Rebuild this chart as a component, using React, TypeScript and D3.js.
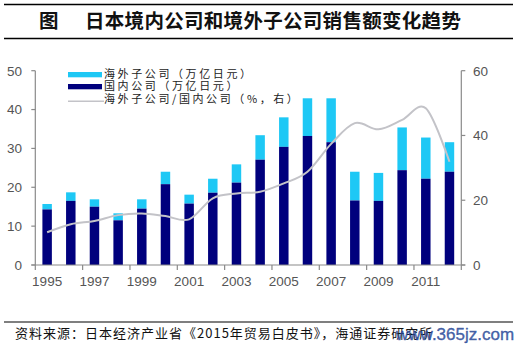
import React from "react";
import * as d3 from "d3";

const years = ["1995","1996","1997","1998","1999","2000","2001","2002","2003","2004","2005","2006","2007","2008","2009","2010","2011","2012"];
const totalSales = [15.7,18.7,16.9,13.3,16.9,24.0,18.1,22.2,25.9,33.4,38.0,42.9,42.9,24.0,23.7,35.4,32.8,31.6];
const domestic = [14.3,16.5,15.0,11.5,14.5,20.8,15.8,18.6,21.2,27.1,30.4,33.2,31.6,16.6,16.5,24.4,22.2,24.0];
const ratio = [10.1,12.6,13.6,15.4,15.9,15.1,14.1,20.6,22.1,22.6,25.2,28.8,37.4,43.8,41.9,44.8,48.4,31.9];
const leftTicks = [0,10,20,30,40,50];
const rightTicks = [0,20,40,60];
const xLabelYears = ["1995","1997","1999","2001","2003","2005","2007","2009","2011"];

const title = "日本境内公司和境外子公司销售额变化趋势";
const legendLabels = ["海外子公司（万亿日元）", "国内公司（万亿日元）", "海外子公司/国内公司（%，右）"];
const source = "资料来源：日本经济产业省《2015年贸易白皮书》，海通证券研究所";

const LIGHT = "#1ec8f5";
const DARK = "#00007d";
const LINE = "#c3c3c8";
const AXIS = "#8a8a8a";
const TXT = "#555";

export default function App() {
  const W = 519, H = 349;
  const x0 = 35.3, x1 = 461.3, yBase = 265, yTop = 70.7;
  const x = d3.scaleBand().domain(years).range([x0, x1]).paddingInner(0.6).paddingOuter(0.3);
  const yL = d3.scaleLinear().domain([0, 50]).range([yBase, yTop]);
  const yR = d3.scaleLinear().domain([0, 60]).range([yBase, yTop]);
  const step = x.step();
  const bw = x.bandwidth();
  const cx = (y: string) => (x(y) as number) + bw / 2;

  const line = d3.line<number>()
    .x((_, i) => cx(years[i]))
    .y((d) => yR(d))
    .curve(d3.curveCardinal.tension(0));

  const boundaries = d3.range(0, years.length + 1, 2).map((i) => x0 + i * step);
  const font = "'Liberation Sans', Arial, sans-serif";
  const cjk = "'Noto Sans CJK SC', sans-serif";
  const legendY = [74.3, 86.5, 98.8];

  return (
    <svg width={W} height={H} style={{ position: "absolute", left: 0, top: 0, background: "#fff" }}>
      <rect x={0} y={0} width={W} height={H} fill="#fff" />
      {/* title */}
      <line x1={4} x2={513} y1={4.5} y2={4.5} stroke="#000" strokeWidth={1.5} />
      <line x1={4} x2={513} y1={38.5} y2={38.5} stroke="#000" strokeWidth={1.5} />
      <text x={39} y={28} fontFamily={cjk} fontWeight="bold" fontSize={19.5} fill="#111">图</text>
      <text x={85} y={28} fontFamily={cjk} fontWeight="bold" fontSize={19.5} fill="#111" letterSpacing={0.3}>{title}</text>

      {/* bars */}
      {years.map((yr, i) => (
        <g key={yr}>
          <rect x={x(yr)} y={yL(totalSales[i])} width={bw} height={yL(domestic[i]) - yL(totalSales[i])} fill={LIGHT} />
          <rect x={x(yr)} y={yL(domestic[i])} width={bw} height={yBase - yL(domestic[i])} fill={DARK} />
        </g>
      ))}

      {/* ratio line */}
      <path d={line(ratio) || ""} fill="none" stroke={LINE} strokeWidth={2} />

      {/* axes */}
      <line x1={x0} x2={x0} y1={yTop} y2={yBase} stroke={AXIS} strokeWidth={1.2} />
      <line x1={x1} x2={x1} y1={yTop} y2={yBase} stroke={AXIS} strokeWidth={1.2} />
      <line x1={x0 - 4} x2={x1 + 4} y1={yBase} y2={yBase} stroke={AXIS} strokeWidth={1.2} />
      {leftTicks.map((t) => (
        <g key={"l" + t}>
          <line x1={x0 - 4} x2={x0} y1={yL(t)} y2={yL(t)} stroke={AXIS} strokeWidth={1.2} />
          <text x={22} y={yL(t)} dy="0.36em" textAnchor="end" fontFamily={font} fontSize={13.5} fill={TXT}>{t}</text>
        </g>
      ))}
      {rightTicks.map((t) => (
        <g key={"r" + t}>
          <line x1={x1} x2={x1 + 4} y1={yR(t)} y2={yR(t)} stroke={AXIS} strokeWidth={1.2} />
          <text x={473} y={yR(t)} dy="0.36em" textAnchor="start" fontFamily={font} fontSize={13.5} fill={TXT}>{t}</text>
        </g>
      ))}
      {boundaries.map((bx, i) => (
        <line key={"b" + i} x1={bx} x2={bx} y1={yBase} y2={yBase + 5} stroke={AXIS} strokeWidth={1.2} />
      ))}
      {xLabelYears.map((yr) => (
        <text key={"x" + yr} x={cx(yr)} y={281} dy="0.36em" textAnchor="middle" fontFamily={font} fontSize={13.5} fill={TXT}>{yr}</text>
      ))}

      {/* legend */}
      <rect x={68} y={72} width={34} height={5.3} fill={LIGHT} />
      <rect x={68} y={84} width={34} height={5.3} fill={DARK} />
      <line x1={68} x2={104} y1={101.3} y2={101.3} stroke={LINE} strokeWidth={1.5} />
      {legendLabels.map((lab, i) => (
        <text key={lab} x={104} y={legendY[i]} dy="0.36em" fontFamily={cjk} fontSize={11} fill="#222" letterSpacing={2.6}>{lab}</text>
      ))}

      {/* footer */}
      <line x1={4} x2={513} y1={322} y2={322} stroke="#000" strokeWidth={1.2} />
      <text x={15} y={333.5} dy="0.36em" fontFamily={cjk} fontSize={13} fill="#111" letterSpacing={1}>{source}</text>
      <text x={396} y={334} dy="0.36em" fontFamily={font} fontSize={17} fill="#2a4b9a" fillOpacity={0.85} stroke="#2a4b9a" strokeWidth={0.4} strokeOpacity={0.85}>www.365jz.com</text>
    </svg>
  );
}
